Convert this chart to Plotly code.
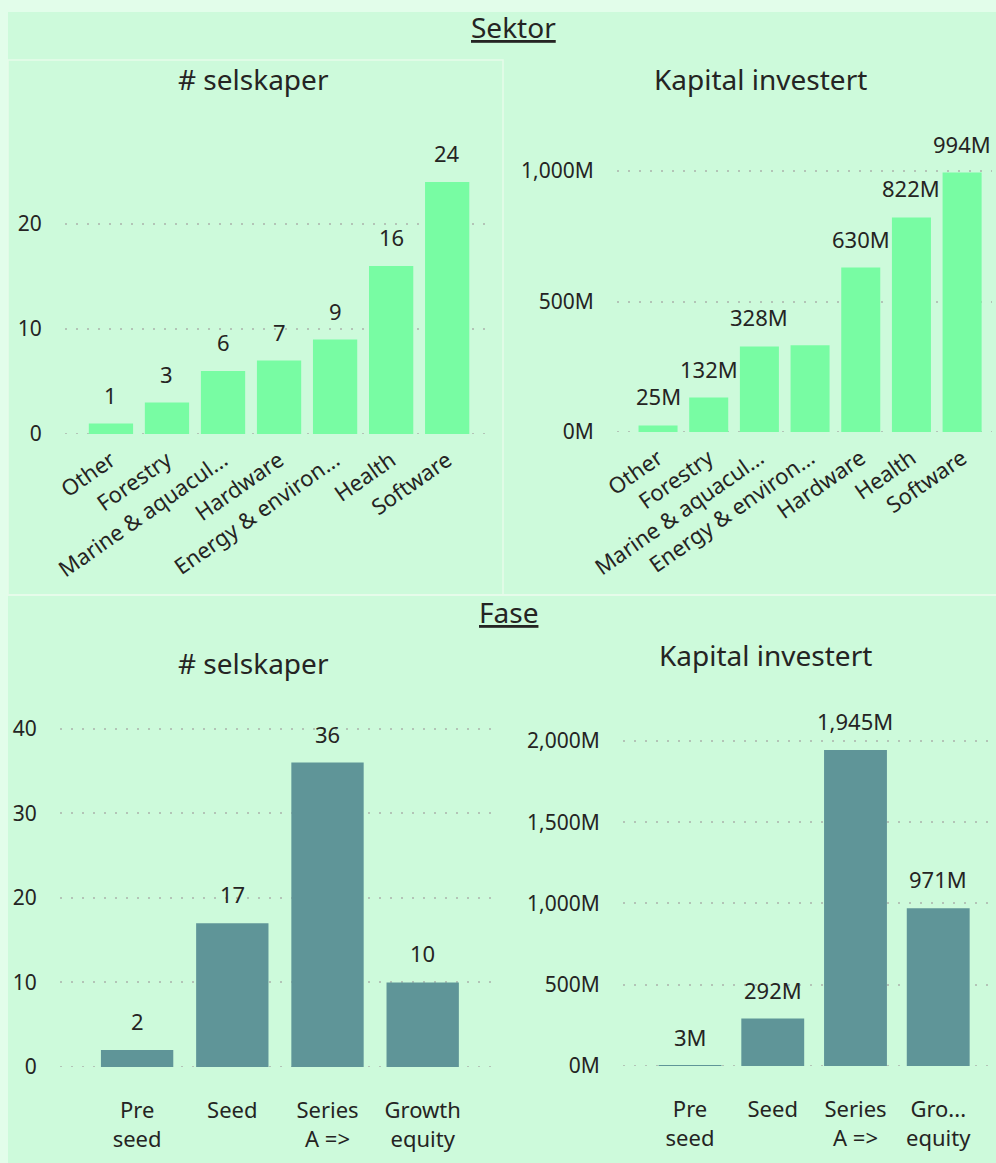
import plotly.graph_objects as go

W, H = 996, 1163

# ---------------- data ----------------
sektor_ant_cats = ["Other", "Forestry", "Marine & aquacul...", "Hardware",
                   "Energy & environ...", "Health", "Software"]
sektor_ant_vals = [1, 3, 6, 7, 9, 16, 24]

sektor_kap_cats = ["Other", "Forestry", "Marine & aquacul...", "Energy & environ...",
                   "Hardware", "Health", "Software"]
sektor_kap_vals = [25, 132, 328, 332, 630, 822, 994]          # million NOK
sektor_kap_labels = ["25M", "132M", "328M", "", "630M", "822M", "994M"]

fase_ant_cats = ["Pre<br>seed", "Seed", "Series<br>A =>", "Growth<br>equity"]
fase_ant_vals = [2, 17, 36, 10]

fase_kap_cats = ["Pre<br>seed", "Seed", "Series<br>A =>", "Gro...<br>equity"]
fase_kap_vals = [3, 292, 1945, 971]                           # million NOK

# ---------------- style ----------------
GREEN = "#78fca3"
TEAL = "#5f9598"
BG = "#cdfadb"
BAND = "#e2fdea"
TXT = "#252423"
GRID = "#b3c4b7"
DASH = "2px,9px"
FONT = "Noto Sans"
TFONT = "Noto Sans"


def dx(a, b):
    return [a / W, b / W]


def dy(top, bottom):
    return [1 - bottom / H, 1 - top / H]


fig = go.Figure()

panels = [
    dict(cats=sektor_ant_cats, vals=sektor_ant_vals, labels=[str(v) for v in sektor_ant_vals],
         color=GREEN, width=0.79, xd=dx(65, 492), yd=dy(140, 434),
         xr=[-0.82, 6.80], yr=[0, 28], ytv=[0, 10, 20], suffix="", rot=-35, xfs=22, tl=4),
    dict(cats=sektor_kap_cats, vals=sektor_kap_vals, labels=sektor_kap_labels,
         color=GREEN, width=0.77, xd=dx(617, 992), yd=dy(140, 432),
         xr=[-0.81, 6.59], yr=[0, 1119], ytv=[0, 500, 1000], suffix="M", rot=-35, xfs=22, tl=4),
    dict(cats=fase_ant_cats, vals=fase_ant_vals, labels=[str(v) for v in fase_ant_vals],
         color=TEAL, width=0.76, xd=dx(60, 496), yd=dy(700, 1067),
         xr=[-0.81, 3.77], yr=[0, 43.4], ytv=[0, 10, 20, 30, 40], suffix="", rot=0, xfs=22, tl=24),
    dict(cats=fase_kap_cats, vals=fase_kap_vals, labels=[f"{v:,}M" for v in fase_kap_vals],
         color=TEAL, width=0.76, xd=dx(623, 992), yd=dy(700, 1066),
         xr=[-0.81, 3.65], yr=[0, 2252], ytv=[0, 500, 1000, 1500, 2000], suffix="M", rot=0, xfs=22, tl=24),
]

annotations = []
shapes = [
    dict(type="rect", xref="paper", yref="paper", x0=8 / W, x1=1, y0=0, y1=1 - 12 / H,
         fillcolor=BG, line=dict(width=0), layer="below"),
    dict(type="rect", xref="paper", yref="paper", x0=8 / W, x1=503 / W,
         y0=1 - 595 / H, y1=1 - 60 / H, fillcolor="rgba(0,0,0,0)",
         line=dict(color="#e6fbea", width=1.5), layer="below"),
    dict(type="line", xref="paper", yref="paper", x0=8 / W, x1=1,
         y0=1 - 595 / H, y1=1 - 595 / H, line=dict(color="#e6fbea", width=2), layer="below"),
]
layout_axes = {}
for i, p in enumerate(panels, start=1):
    xa = "x" if i == 1 else f"x{i}"
    ya = "y" if i == 1 else f"y{i}"
    fig.add_trace(go.Bar(
        x=p["cats"], y=p["vals"], marker=dict(color=p["color"], line=dict(width=0)),
        width=p["width"], xaxis=xa, yaxis=ya, showlegend=False, hoverinfo="skip",
    ))
    for c, v, lab in zip(p["cats"], p["vals"], p["labels"]):
        if lab:
            annotations.append(dict(
                x=c, y=v, xref=xa, yref=ya, text=lab, showarrow=False,
                yanchor="bottom", xanchor="center", yshift=12,
                font=dict(family=FONT, size=22, color=TXT),
            ))
    # dotted baseline gridline at zero (range edge is otherwise not drawn)
    shapes.append(dict(type="line", xref=f"{xa} domain", yref=ya, x0=0, x1=1, y0=0, y1=0,
                       line=dict(color=GRID, width=2, dash=DASH), layer="below"))
    kx = "xaxis" if i == 1 else f"xaxis{i}"
    ky = "yaxis" if i == 1 else f"yaxis{i}"
    layout_axes[kx] = dict(
        domain=p["xd"], anchor=ya, type="category", range=p["xr"],
        showgrid=False, zeroline=False, showline=False, automargin=False,
        ticks="outside", ticklen=p["tl"], tickcolor="rgba(0,0,0,0)",
        tickangle=p["rot"], tickfont=dict(family=FONT, size=p["xfs"], color=TXT),
        fixedrange=True,
    )
    layout_axes[ky] = dict(
        domain=p["yd"], anchor=xa, range=p["yr"], tickmode="array", tickvals=p["ytv"],
        ticktext=[f"{v:,}{p['suffix']}" for v in p["ytv"]],
        showgrid=True, gridcolor=GRID, griddash=DASH, gridwidth=2,
        zeroline=False, showline=False, automargin=False,
        ticks="outside", ticklen=18, tickcolor="rgba(0,0,0,0)",
        tickfont=dict(family=FONT, size=21, color=TXT),
        fixedrange=True,
    )


def title(text, xp, yp, size=28):
    annotations.append(dict(
        x=xp / W, y=1 - yp / H, xref="paper", yref="paper", text=text,
        showarrow=False, xanchor="center", yanchor="middle",
        font=dict(family=TFONT, size=size, color=TXT),
    ))


title("<u>Sektor</u>", 513, 27)
title("# selskaper", 253, 79)
title("Kapital investert", 760, 79)
title("<u>Fase</u>", 508, 612)
title("# selskaper", 253, 663)
title("Kapital investert", 765, 655)

fig.update_layout(
    width=W, height=H, margin=dict(l=0, r=0, t=0, b=0, autoexpand=False),
    paper_bgcolor=BAND, plot_bgcolor="rgba(0,0,0,0)",
    font=dict(family=FONT, color=TXT),
    annotations=annotations, shapes=shapes, bargap=0.2,
    **layout_axes,
)

fig.write_html("out.html", config={"displayModeBar": False})
